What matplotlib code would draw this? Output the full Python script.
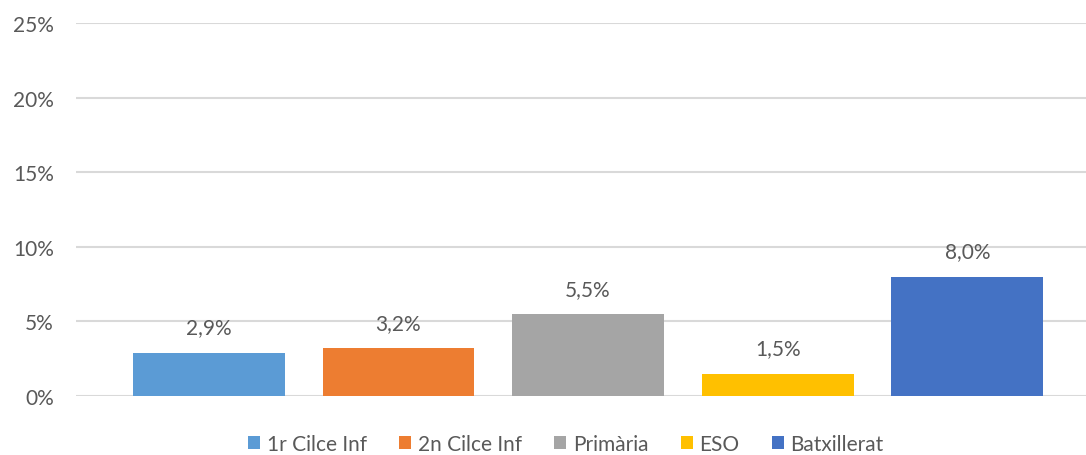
import numpy as np
import matplotlib.pyplot as plt
from matplotlib.patches import Patch

# data
categories = ['1r Cilce Inf', '2n Cilce Inf', 'Primària', 'ESO', 'Batxillerat']
values = [2.9, 3.2, 5.5, 1.5, 8.0]
colors = ['#5B9BD5', '#ED7D31', '#A5A5A5', '#FFC000', '#4472C4']
yticks = [0, 5, 10, 15, 20, 25]

plt.rcParams['font.family'] = ['Lato', 'DejaVu Sans']
text_color = '#595959'

fig = plt.figure(figsize=(10.86, 4.56), dpi=100)
ax = fig.add_axes([0.07, 0.1294, 0.93, 0.8180])

x = np.arange(len(categories))
bars = ax.bar(x, values, width=0.8, color=colors, zorder=2)

for xi, v in zip(x, values):
    ax.annotate(f'{v:.1f}%'.replace('.', ','), (xi, v), xytext=(0, 11),
                textcoords='offset points', ha='center', va='bottom',
                fontsize=15, color=text_color)

ax.set_xlim(-0.7, 4.626)
ax.set_ylim(0, 25)
ax.set_yticks(yticks)
ax.set_yticklabels([f'{t}%' for t in yticks])
ax.set_xticks([])
ax.tick_params(axis='y', length=0, pad=16, labelsize=15, labelcolor=text_color)
ax.yaxis.grid(True, color='#D9D9D9', linewidth=1.5, zorder=0)
ax.set_axisbelow(True)
for s in ax.spines.values():
    s.set_visible(False)

handles = [Patch(facecolor=c, edgecolor='none') for c in colors]
fig.legend(handles, categories, loc='center', bbox_to_anchor=(0.521, 0.024),
           ncol=5, frameon=False, fontsize=15, labelcolor=text_color,
           handlelength=0.6, handleheight=0.6, handletextpad=0.3,
           columnspacing=1.55, borderpad=0.2)

fig.savefig('out.png', dpi=100)
